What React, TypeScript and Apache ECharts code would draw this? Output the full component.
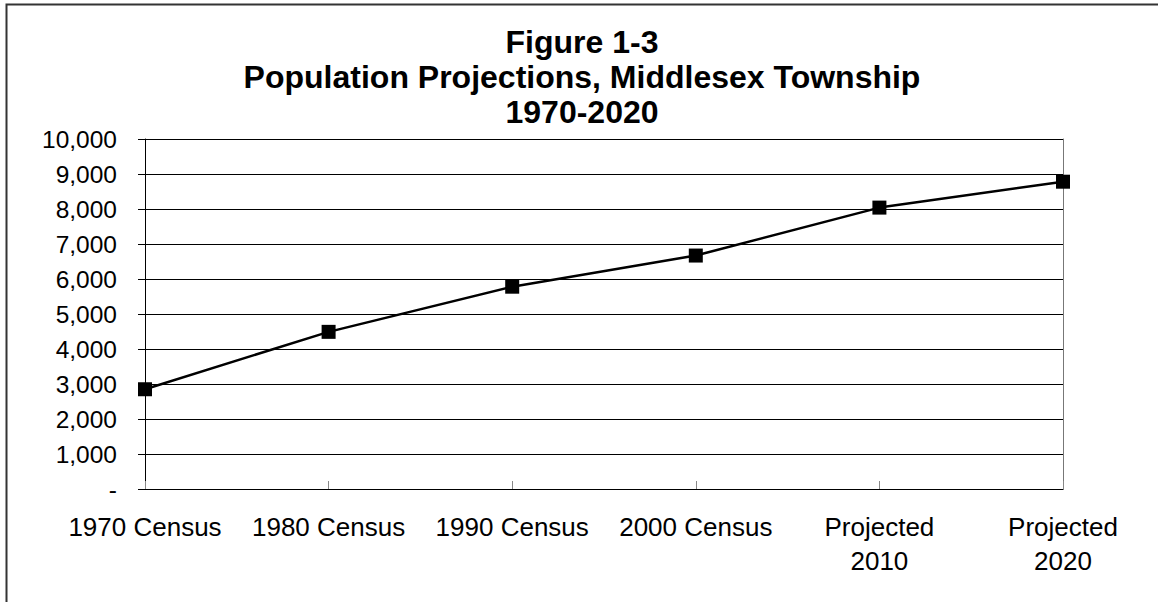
import React, { useEffect, useRef } from "react";
import * as echarts from "echarts";

const categories: string[] = [
  "1970 Census",
  "1980 Census",
  "1990 Census",
  "2000 Census",
  "Projected\n2010",
  "Projected\n2020",
];
const population: number[] = [2850, 4490, 5780, 6670, 8040, 8780];
const titleLines: string[] = [
  "Figure 1-3",
  "Population Projections, Middlesex Township",
  "1970-2020",
];
const yMin = 0;
const yMax = 10000;
const yStep = 1000;

const FONT = "'Liberation Sans', Arial, Helvetica, sans-serif";

export default function App() {
  const ref = useRef<HTMLDivElement>(null);

  useEffect(() => {
    if (!ref.current) return;
    const chart = echarts.init(ref.current, undefined, { renderer: "svg" });
    chart.setOption({
      animation: false,
      backgroundColor: "#ffffff",
      textStyle: { fontFamily: FONT, color: "#000" },
      title: {
        text: titleLines.join("\n"),
        left: 582,
        top: 24,
        textAlign: "center",
        padding: 0,
        textStyle: {
          fontFamily: FONT,
          fontSize: 32,
          fontWeight: "bold",
          color: "#000",
          lineHeight: 35,
        },
      },
      graphic: [
        {
          type: "rect",
          shape: { x: 6.5, y: 4.5, width: 1300, height: 800 },
          style: { fill: "none", stroke: "#333", lineWidth: 2 },
          silent: true,
        },
      ],
      grid: { left: 145, right: 95, top: 139, bottom: 113, containLabel: false },
      xAxis: {
        type: "category",
        data: categories,
        boundaryGap: false,
        axisLine: { show: true, lineStyle: { color: "#000", width: 1 } },
        axisTick: {
          show: true,
          inside: true,
          length: 8,
          lineStyle: { color: "#888", width: 1 },
        },
        axisLabel: {
          color: "#000",
          fontFamily: FONT,
          fontSize: 26,
          lineHeight: 34,
          margin: 21,
          interval: 0,
        },
        splitLine: { show: false },
      },
      yAxis: [
        {
          type: "value",
          min: yMin,
          max: yMax,
          interval: yStep,
          axisLine: { show: true, lineStyle: { color: "#000", width: 1 } },
          axisTick: { show: true, length: 7, lineStyle: { color: "#000" } },
          axisLabel: {
            color: "#000",
            fontFamily: FONT,
            fontSize: 24.5,
            margin: 28,
            formatter: (v: number) =>
              v === 0 ? "-" : v.toLocaleString("en-US"),
          },
          splitLine: { show: true, lineStyle: { color: "#000", width: 1 } },
        },
        {
          type: "value",
          position: "right",
          min: yMin,
          max: yMax,
          interval: yStep,
          axisLine: { show: true, lineStyle: { color: "#777", width: 1 } },
          axisTick: { show: false },
          axisLabel: { show: false },
          splitLine: { show: false },
        },
      ],
      series: [
        {
          type: "line",
          data: population,
          yAxisIndex: 0,
          symbol: "rect",
          symbolSize: 14,
          lineStyle: { color: "#000", width: 2.5 },
          itemStyle: { color: "#000" },
          z: 5,
        },
      ],
    });
    return () => chart.dispose();
  }, []);

  return (
    <div
      ref={ref}
      style={{ position: "fixed", left: 0, top: 0, width: 1158, height: 602 }}
    />
  );
}
